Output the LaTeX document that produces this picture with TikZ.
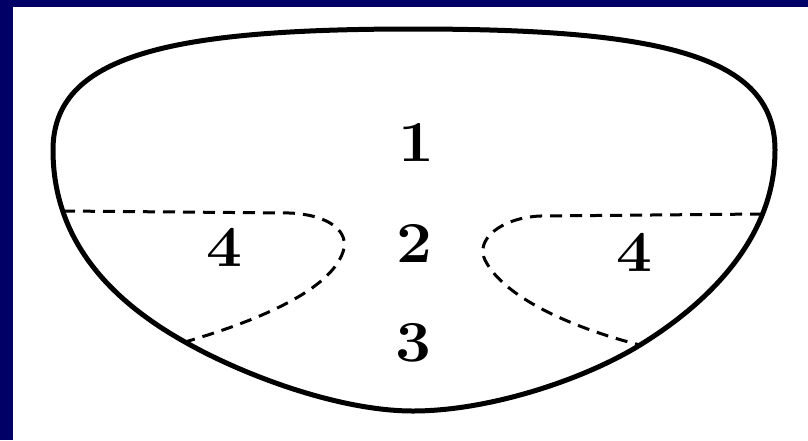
\documentclass[tikz,border=0pt]{standalone}
\definecolor{navyframe}{HTML}{000066}
\tikzset{
  outline/.style={line width=5pt, black},
  zoneline/.style={line width=3pt, black, dash pattern=on 12pt off 8pt},
  zonelabel/.style={font=\fontsize{58}{58}\selectfont\bfseries, inner sep=0pt, xscale=1.1}
}
\begin{document}
\begin{tikzpicture}[x=1pt,y=-1pt]
\useasboundingbox (0,0) rectangle (808,440);
\fill[white] (0,0) rectangle (808,440);
\fill[navyframe] (0,0) rectangle (808,7);
\fill[navyframe] (0,0) rectangle (13,440);
% dashed zone boundary end points on the outline
\coordinate (lA) at (63,211);
\coordinate (lB) at (185,342);
\coordinate (rA) at (762,214);
\coordinate (rB) at (640,345);
% outer outline
\draw[outline] (413,29) .. controls (660,29) and (775,55) .. (775,150)
  .. controls (775,240) and (705,305) .. (rB)
  .. controls (585,379) and (490,411) .. (413,411)
  .. controls (340,411) and (245,376) .. (lB)
  .. controls (110,300) and (53,240) .. (53,150)
  .. controls (53,55) and (170,29) .. (413,29) -- cycle;
% dashed zone boundaries
\draw[zoneline] (lA) -- (290,213) .. controls (330,215) and (350,232) .. (343,252)
   .. controls (330,290) and (260,320) .. (lB);
\draw[zoneline] (rA) -- (540,216) .. controls (500,218) and (475,240) .. (485,260)
   .. controls (505,300) and (580,330) .. (rB);
% labels
\node[zonelabel] (n1) at (416,142) {1};
\node[zonelabel] (n2) at (414,243) {2};
\node[zonelabel] (n3) at (413,343) {3};
\node[zonelabel] (n4l) at (224,247) {4};
\node[zonelabel] (n4r) at (634,252) {4};
\end{tikzpicture}
\end{document}
